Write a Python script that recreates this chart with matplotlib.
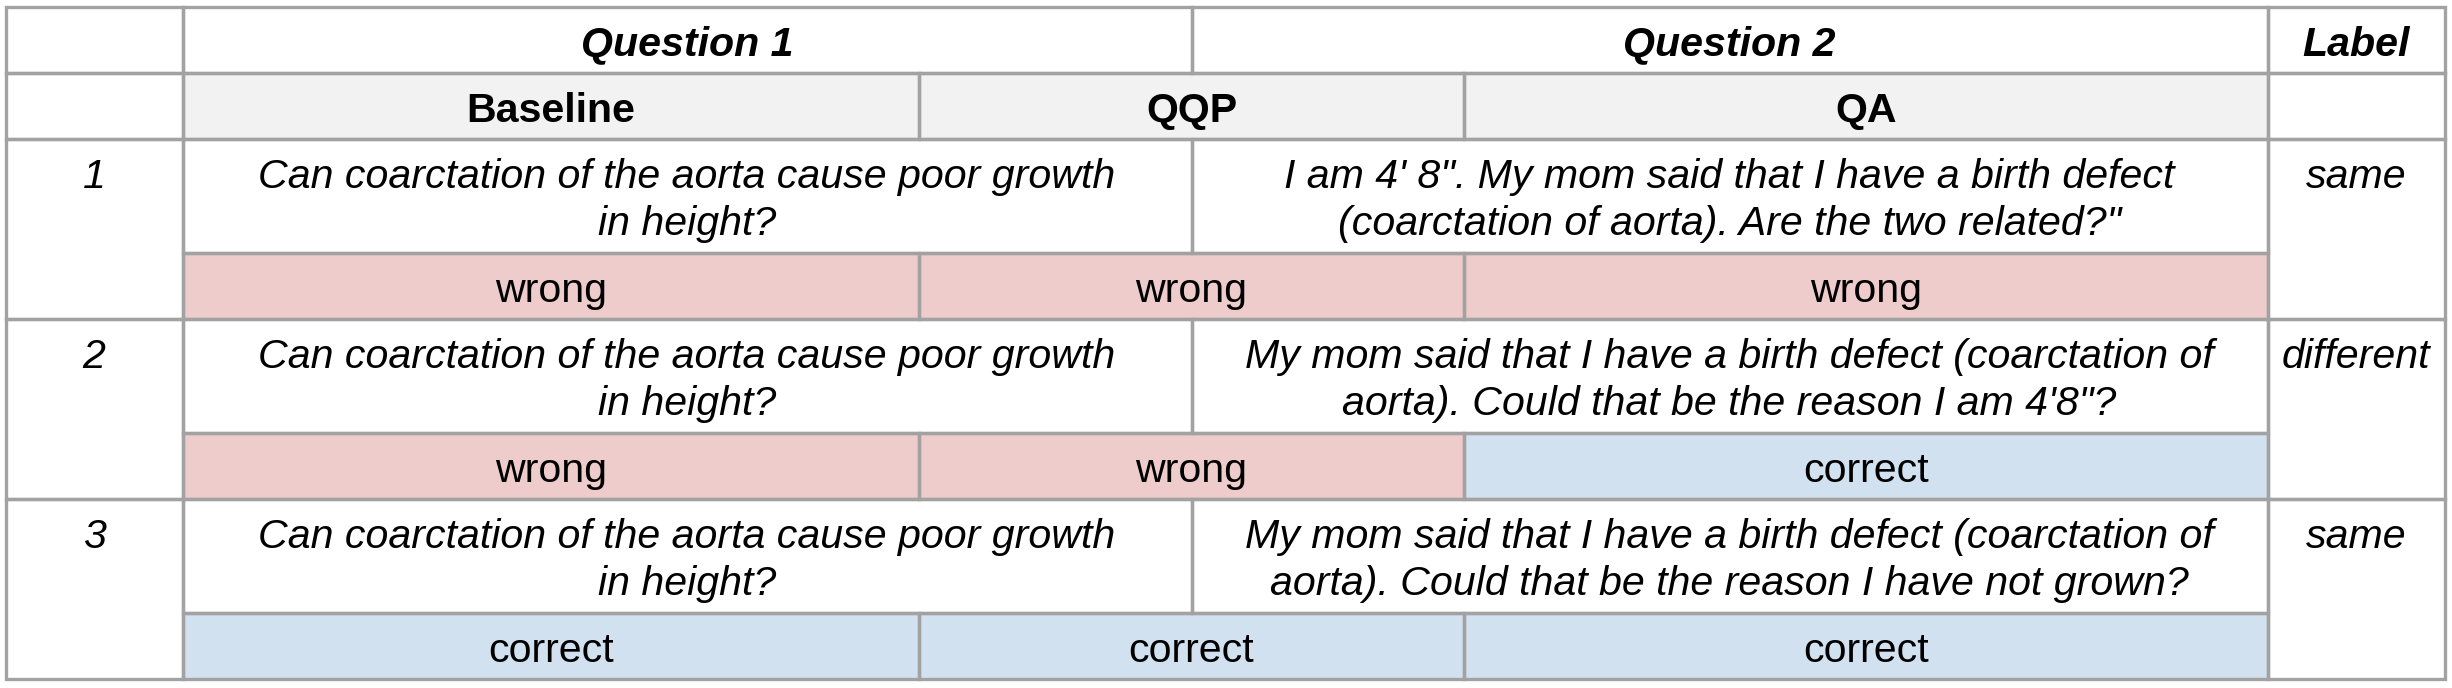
import matplotlib.pyplot as plt
import matplotlib.patches as patches

# ── DATA ───────────────────────────────────────────────────
row_ids = ['1', '2', '3']
question_1 = [
    'Can coarctation of the aorta cause poor growth\nin height?',
    'Can coarctation of the aorta cause poor growth\nin height?',
    'Can coarctation of the aorta cause poor growth\nin height?',
]
question_2 = [
    'I am 4\' 8". My mom said that I have a birth defect\n(coarctation of aorta). Are the two related?"',
    'My mom said that I have a birth defect (coarctation of\naorta). Could that be the reason I am 4\'8"?',
    'My mom said that I have a birth defect (coarctation of\naorta). Could that be the reason I have not grown?',
]
labels = ['same', 'different', 'same']
models = ['Baseline', 'QQP', 'QA']
baseline_pred = ['wrong', 'wrong', 'correct']
qqp_pred = ['wrong', 'wrong', 'correct']
qa_pred = ['wrong', 'correct', 'correct']
predictions = [baseline_pred, qqp_pred, qa_pred]

# ── STYLE / LAYOUT (pixels) ────────────────────────────────
FONT = ['Liberation Sans', 'DejaVu Sans']
LINE = '#a2a2a2'
HEAD_BG = '#f2f2f2'
FILL = {'wrong': '#eecccc', 'correct': '#d2e1f0'}
FS = 29.6
LW = 2.4
DY = 5          # text sits a little below the cell centre
LSP = 1.3

W, H = 2452, 688
x_idx, x_q1, x_q2, x_lab, x_end = 5.5, 182.5, 1191.5, 2267.5, 2444.5
model_x = [182.5, 919, 1464, 2267.5]
y0, head_h = 6.5, 66
text_h, res_h = 114, 66

fig = plt.figure(figsize=(W / 100, H / 100), dpi=100)
ax = fig.add_axes([0, 0, 1, 1])
ax.set_xlim(0, W)
ax.set_ylim(H, 0)
ax.axis('off')


def cell(x1, x2, y1, y2, text='', face='white', bold=False, italic=False,
         ty=None):
    ax.add_patch(patches.Rectangle((x1, y1), x2 - x1, y2 - y1, facecolor=face,
                                   edgecolor='none', zorder=1))
    ax.add_patch(patches.Rectangle((x1, y1), x2 - x1, y2 - y1, facecolor='none',
                                   edgecolor=LINE, linewidth=LW, zorder=2))
    if text:
        ty = (y1 + y2) / 2 + DY if ty is None else ty
        ax.text((x1 + x2) / 2, ty, text,
                ha='center', va='center', fontsize=FS, family=FONT,
                fontweight='bold' if bold else 'normal',
                fontstyle='italic' if italic else 'normal',
                linespacing=LSP, color='black', zorder=3)


# header rows
h1, h2 = y0 + head_h, y0 + 2 * head_h
cell(x_idx, x_q1, y0, h1)
cell(x_q1, x_q2, y0, h1, 'Question 1', bold=True, italic=True)
cell(x_q2, x_lab, y0, h1, 'Question 2', bold=True, italic=True)
cell(x_lab, x_end, y0, h1, 'Label', bold=True, italic=True)
cell(x_idx, x_q1, h1, h2)
for m, xa, xb in zip(models, model_x[:-1], model_x[1:]):
    cell(xa, xb, h1, h2, m, face=HEAD_BG, bold=True)
cell(x_lab, x_end, h1, h2)

# body rows
for i in range(len(row_ids)):
    top = h2 + i * (text_h + res_h)
    mid = top + text_h
    bot = mid + res_h
    first_line = top + text_h / 2 + DY - 24
    cell(x_idx, x_q1, top, bot, row_ids[i], italic=True, ty=first_line)
    cell(x_lab, x_end, top, bot, labels[i], italic=True, ty=first_line)
    cell(x_q1, x_q2, top, mid, question_1[i], italic=True)
    cell(x_q2, x_lab, top, mid, question_2[i], italic=True)
    for preds, xa, xb in zip(predictions, model_x[:-1], model_x[1:]):
        cell(xa, xb, mid, bot, preds[i], face=FILL[preds[i]])

plt.savefig('out.png', dpi=100, facecolor='white')
